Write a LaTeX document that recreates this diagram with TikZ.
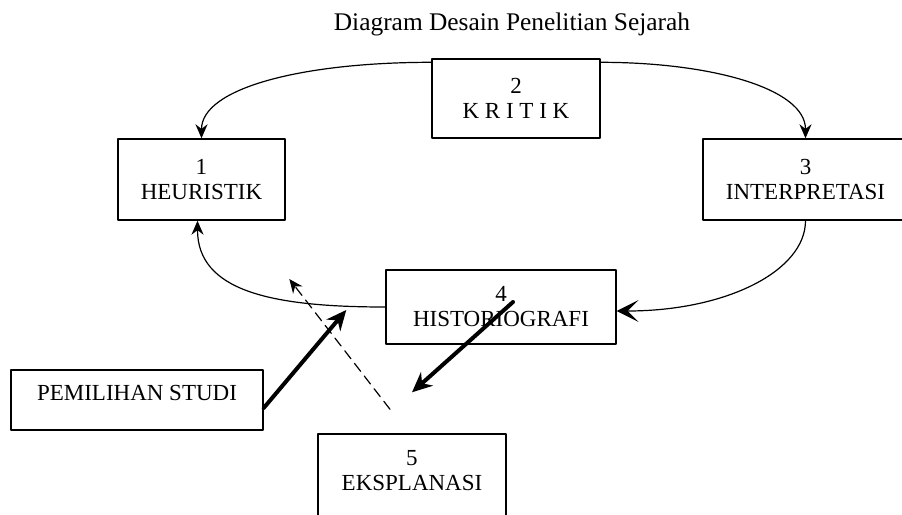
\documentclass[tikz,border=0pt]{standalone}
\usepackage{fontspec}
\setmainfont{Liberation Serif}
\usetikzlibrary{arrows.meta,calc}
\begin{document}
\begin{tikzpicture}[x=0.5pt, y=-0.5pt, line cap=round, line join=round, >={Stealth[length=7pt,width=6pt]}, font=\fontsize{11.5}{12.5}\selectfont,
	box/.style={draw, line width=0.7pt, align=center, inner sep=0pt}]
	\useasboundingbox (0,0) rectangle (902,515);
	\node (T) at (512,24) {\fontsize{12.7}{15}\selectfont Diagram Desain Penelitian Sejarah};
	\node[box, minimum width=84pt, minimum height=39.5pt] (K) at (516,98.5) {2\\K R I T I K};
	\node[box, minimum width=83.5pt, minimum height=40.5pt] (H) at (201.5,179.5) {1\\HEURISTIK};
	\node[box, minimum width=102.5pt, minimum height=40.5pt] (I) at (805.5,179.5) {3\\INTERPRETASI};
	\node[box, minimum width=115pt, minimum height=37pt] (G) at (501,307) {4\\HISTORIOGRAFI};
	\node[box, minimum width=126pt, minimum height=30pt, text depth=7pt] (P) at (137,400) {PEMILIHAN STUDI};
	\node[box, minimum width=94pt, minimum height=45.5pt, text depth=9.5pt] (E) at (412,479.5) {5\\EKSPLANASI};
	% siklus
	\draw[line width=0.6pt, ->] ([yshift=-2pt]K.north west) .. controls +(-130,0) and +(0,-50) .. (H.north);
	\draw[line width=0.6pt, ->] ([yshift=-2pt]K.north east) .. controls +(110,0) and +(0,-50) .. (I.north);
	\draw[line width=0.6pt, -{Stealth[length=11pt,width=11pt,inset=5.5pt]}] (I.south) .. controls +(0,50) and +(110,0) .. ([yshift=-2pt]G.east);
	\draw[line width=0.6pt, ->] (G.west) .. controls +(-115,0) and +(0,70) .. ([xshift=-2pt]H.south);
	% panah tebal
	\coordinate (A) at ($(G.west)+(-39,3)$);
	\coordinate (B) at ($(E.north)+(0,-41)$);
	\coordinate (C) at ($(G.west)+(-96,-28)$);
	\draw[line width=2pt, -{Stealth[length=10pt,width=9pt]}] ([yshift=-4pt]P.east) -- (A);
	\draw[line width=2pt, -{Stealth[length=10pt,width=9pt]}] ($(G)+(12,-5)$) -- (B);
	\draw[line width=0.6pt, dash pattern=on 5pt off 3pt, ->] ($(E.north)+(-22,-24)$) -- (C);
\end{tikzpicture}
\end{document}
